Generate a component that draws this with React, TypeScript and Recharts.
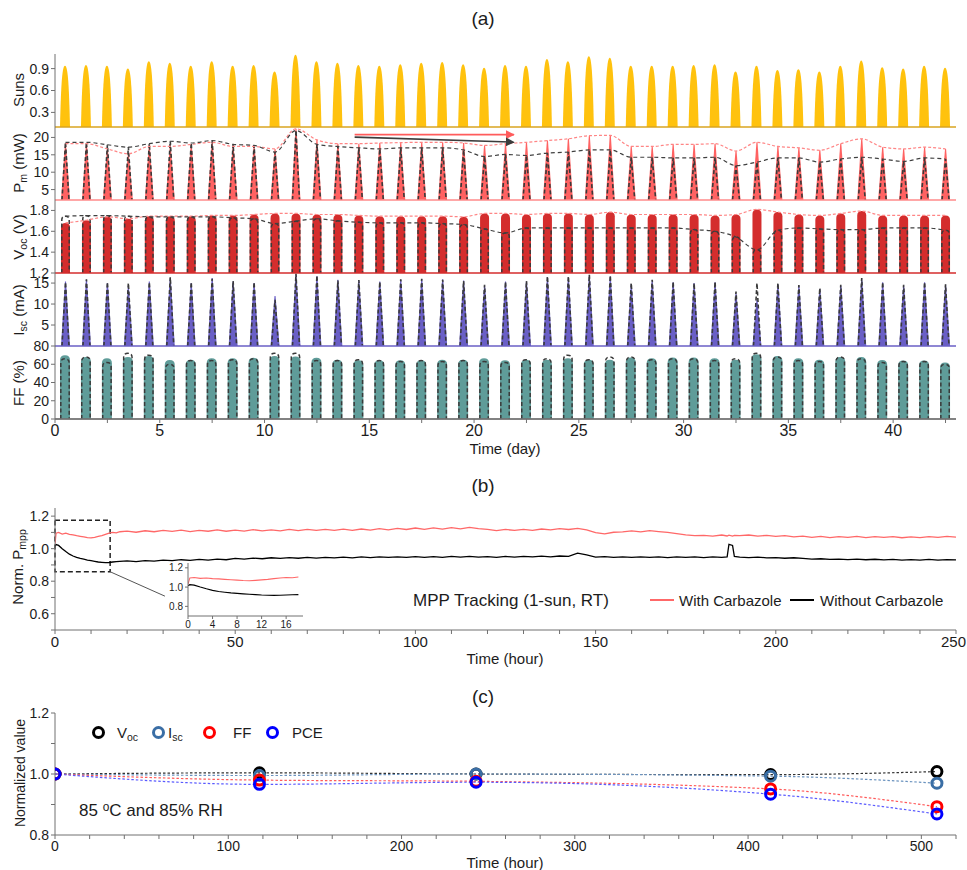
import React from "react";
import {
  ComposedChart,
  LineChart,
  Line,
  Bar,
  XAxis,
  YAxis,
  ReferenceLine,
  ReferenceArea,
} from "recharts";

const FONT = '"Liberation Sans", Arial, Helvetica, sans-serif';
const AXIS = "#707070";
const INK = "#1c1c1c";

const SUN = "#ffc20e";
const PM = "#ff6262";
const VOC = "#d42d2d";
const ISC = "#6a5fc6";
const FFC = "#5f9c99";
const DASH = "#3a3a3a";

// ---------- (a) outdoor test, one peak per day ----------
const dayMid = [
  0.5, 1.5, 2.5, 3.5, 4.5, 5.5, 6.5, 7.5, 8.5, 9.5, 10.5, 11.5, 12.5, 13.5, 14.5,
  15.5, 16.5, 17.5, 18.5, 19.5, 20.5, 21.5, 22.5, 23.5, 24.5, 25.5, 26.5, 27.5,
  28.5, 29.5, 30.5, 31.5, 32.5, 33.5, 34.5, 35.5, 36.5, 37.5, 38.5, 39.5, 40.5,
  41.5, 42.5,
];
const dayTicks = [0, 2.5, 5, 7.5, 10, 12.5, 15, 17.5, 20, 22.5, 25, 27.5, 30, 32.5, 35, 37.5, 40, 42.5];

const sunsPeak = [
  0.94, 0.95, 0.94, 0.9, 1.0, 0.98, 0.94, 1.0, 0.94, 0.95, 0.86, 1.09, 1.0,
  0.98, 0.95, 0.94, 0.96, 0.98, 0.99, 0.96, 0.91, 0.95, 0.94, 1.03, 1.0, 1.07, 1.05, 0.94,
  0.94, 0.94, 0.95, 0.96, 0.86, 0.94, 0.88, 0.89, 0.86, 0.94, 1.01, 0.92, 0.9, 0.94, 0.91,
];
const pmWith = [
  18.2, 18.2, 16.7, 15.3, 17.4, 17.4, 18.0, 18.6, 17.4, 17.4, 16.7, 22.5, 19.3,
  18.2, 18.2, 18.4, 18.5, 18.6, 18.6, 18.4, 17.7, 18.2, 18.6, 19.1, 19.6, 20.5, 20.6, 17.4,
  17.4, 18.0, 18.0, 18.2, 16.1, 18.6, 17.4, 17.0, 16.3, 18.2, 19.6, 17.2, 16.7, 17.2, 16.7,
];
const pmWithout = [
  18.6, 18.6, 17.9, 17.2, 18.2, 18.9, 18.4, 19.1, 18.0, 17.7, 15.8, 22.0, 18.0,
  17.4, 17.0, 16.7, 17.0, 17.0, 17.0, 16.4, 14.5, 15.1, 14.8, 15.5, 15.8, 16.4, 16.4, 14.3,
  14.3, 14.1, 14.1, 14.3, 11.9, 12.9, 14.1, 14.1, 12.9, 13.8, 14.3, 13.8, 13.1, 14.1, 13.8,
];
const vocWith = [
  1.68, 1.706, 1.739, 1.72, 1.745, 1.745, 1.745, 1.752, 1.752, 1.761, 1.771, 1.771, 1.761,
  1.761, 1.752, 1.745, 1.745, 1.745, 1.745, 1.739, 1.771, 1.771, 1.761, 1.771, 1.771, 1.761, 1.784, 1.761,
  1.761, 1.761, 1.761, 1.752, 1.761, 1.81, 1.784, 1.761, 1.752, 1.771, 1.794, 1.752, 1.752, 1.752, 1.752,
];
const vocWithout = [
  1.745, 1.75, 1.75, 1.745, 1.739, 1.739, 1.739, 1.739, 1.729, 1.72, 1.674, 1.697, 1.72,
  1.7, 1.687, 1.681, 1.681, 1.681, 1.674, 1.665, 1.623, 1.584, 1.632, 1.632, 1.632, 1.632, 1.632, 1.632,
  1.632, 1.632, 1.616, 1.6, 1.545, 1.423, 1.61, 1.632, 1.623, 1.616, 1.616, 1.632, 1.632, 1.632, 1.61,
];
const iscWith = [
  15.4, 15.8, 15.0, 14.2, 15.4, 16.2, 15.0, 16.2, 15.4, 15.0, 11.9, 17.0, 16.6,
  15.8, 15.6, 15.4, 15.8, 15.9, 15.9, 15.6, 14.4, 15.4, 15.4, 16.4, 16.4, 16.8, 16.6, 14.8,
  15.6, 15.2, 15.0, 15.2, 12.5, 11.0, 14.8, 14.4, 13.6, 14.4, 15.9, 15.2, 14.4, 15.2, 14.6,
];
const iscWithout = [
  15.2, 15.9, 15.2, 15.0, 15.2, 16.4, 15.2, 16.0, 15.5, 15.2, 11.0, 17.2, 16.8,
  15.6, 15.7, 15.3, 15.9, 16.0, 15.8, 15.5, 14.6, 15.3, 15.5, 16.6, 16.6, 17.0, 16.8, 15.0,
  15.8, 15.3, 15.0, 15.3, 13.0, 15.0, 15.0, 14.5, 13.8, 14.6, 16.2, 15.2, 14.6, 15.2, 14.7,
];
const ffWith = [
  70, 68, 66.5, 68, 69, 64.7, 65, 66.5, 66.5, 67, 69, 68.5, 67,
  65, 64.5, 64.5, 64.5, 64.5, 65, 65, 66.5, 64.5, 65, 65, 66.5, 65, 65, 67.5,
  66.5, 67.5, 67.5, 66.5, 65, 71, 69, 66.5, 65, 68, 68, 64.7, 64, 64, 62,
];
const ffWithout = [
  66, 68, 62, 72, 70, 60, 64, 64, 65, 66, 72, 72, 64,
  64, 65, 64, 63, 64, 63, 64, 63, 62, 65, 66, 70, 65, 68, 68,
  65, 66, 66, 64, 66, 72, 68, 64, 63, 68, 66, 62, 63, 63, 60,
];

// ---------- (b) MPP tracking ----------
const mppTime = [
  0, 0.3, 1, 2, 3, 4, 5, 6, 7, 8, 9, 10, 11, 12, 13, 14, 15, 16, 17, 18,
  20, 22.5, 25, 27.5, 30, 32.5, 35, 37.5, 40, 42.5,
  45, 47.5, 50, 52.5, 55, 57.5, 60, 62.5, 65, 67.5,
  70, 72.5, 75, 77.5, 80, 82.5, 85, 87.5, 90, 92.5,
  95, 97.5, 100, 102.5, 105, 107.5, 110, 112.5, 115, 117.5,
  120, 122.5, 125, 127.5, 130, 132.5, 135, 137.5, 140, 142.5,
  145, 147.5, 150, 152.5, 155, 157.5, 160, 162.5, 165, 167.5,
  170, 172.5, 175, 177.5, 180, 182.5, 185, 186.5, 187, 188, 188.5,
  190, 192.5, 195, 197.5, 200, 202.5, 205, 207.5, 210, 212.5,
  215, 217.5, 220, 222.5, 225, 227.5, 230, 232.5, 235, 237.5,
  240, 242.5, 245, 247.5, 250,
];
const mppWith = [
  1.03, 1.095, 1.1, 1.09, 1.095, 1.088, 1.085, 1.08, 1.076, 1.072, 1.068, 1.066, 1.07, 1.075, 1.08, 1.088, 1.095, 1.1, 1.097, 1.104,
  1.108, 1.101, 1.11, 1.104, 1.113, 1.106, 1.114, 1.105, 1.113, 1.107,
  1.115, 1.107, 1.114, 1.108, 1.117, 1.109, 1.116, 1.11, 1.118, 1.111,
  1.119, 1.112, 1.118, 1.112, 1.12, 1.113, 1.121, 1.114, 1.123, 1.116,
  1.125, 1.118, 1.127, 1.119, 1.128, 1.12, 1.129, 1.122, 1.131, 1.123,
  1.118, 1.111, 1.118, 1.112, 1.119, 1.113, 1.121, 1.115, 1.123, 1.118,
  1.125, 1.116, 1.098, 1.091, 1.101, 1.103, 1.109, 1.103, 1.111, 1.105,
  1.1, 1.092, 1.085, 1.08, 1.082, 1.077, 1.084, 1.078, 1.083, 1.077, 1.082,
  1.08, 1.084, 1.077, 1.082, 1.075, 1.08, 1.072, 1.077, 1.069, 1.075,
  1.068, 1.074, 1.069, 1.075, 1.068, 1.074, 1.069, 1.074, 1.067, 1.073,
  1.068, 1.074, 1.069, 1.076, 1.071,
];
const mppWithout = [
  1.015, 1.025, 1.02, 1.0, 0.982, 0.966, 0.955, 0.947, 0.94, 0.935, 0.93, 0.926, 0.922, 0.918, 0.916, 0.914, 0.915, 0.918, 0.92, 0.922,
  0.925, 0.92, 0.927, 0.923, 0.93, 0.926, 0.932, 0.928, 0.934, 0.93,
  0.936, 0.932, 0.94, 0.936, 0.942, 0.938, 0.944, 0.94, 0.945, 0.941,
  0.946, 0.942, 0.947, 0.943, 0.948, 0.944, 0.949, 0.945, 0.95, 0.946,
  0.95, 0.946, 0.951, 0.947, 0.951, 0.947, 0.952, 0.948, 0.952, 0.948,
  0.951, 0.947, 0.952, 0.948, 0.953, 0.949, 0.954, 0.95, 0.955, 0.953,
  0.972, 0.962, 0.948, 0.951, 0.947, 0.95, 0.946, 0.95, 0.946, 0.949,
  0.945, 0.95, 0.946, 0.949, 0.945, 0.949, 0.946, 0.95, 1.027, 1.02, 0.952,
  0.948, 0.945, 0.948, 0.944, 0.945, 0.941, 0.944, 0.94, 0.936, 0.938,
  0.934, 0.936, 0.933, 0.936, 0.932, 0.935, 0.931, 0.934, 0.93, 0.933,
  0.93, 0.934, 0.93, 0.933, 0.931,
];
const hourTicks = [
  0, 10, 20, 30, 40, 50, 60, 70, 80, 90, 100, 110, 120, 130, 140, 150, 160, 170, 180, 190,
  200, 210, 220, 230, 240, 250,
];
const normTicks = [0.5, 0.6, 0.7, 0.8, 0.9, 1.0, 1.1, 1.2];
const insetTicks = [0, 4, 8, 12, 16];

// ---------- (c) damp heat ----------
const dhTime = [0, 118, 243, 413, 509];
const dhVoc = [1.0, 1.004, 1.0, 0.998, 1.008];
const dhIsc = [1.0, 0.995, 1.0, 0.993, 0.97];
const dhFF = [1.0, 0.98, 0.976, 0.951, 0.893];
const dhPCE = [1.0, 0.966, 0.973, 0.934, 0.869];
const dhTicks = [
  0, 20, 40, 60, 80, 100, 120, 140, 160, 180, 200, 220, 240, 260, 280, 300, 320, 340,
  360, 380, 400, 420, 440, 460, 480, 500, 520,
];
const dhYTicks = [0.8, 0.9, 1.0, 1.1, 1.2];

const dayRows = dayMid.map((day, i) => ({
  day,
  suns: sunsPeak[i],
  pmW: pmWith[i],
  pmO: pmWithout[i],
  vocW: vocWith[i],
  vocO: vocWithout[i],
  iscW: iscWith[i],
  iscO: iscWithout[i],
  ffW: ffWith[i],
  ffO: ffWithout[i],
}));
const mppRows = mppTime.map((t, i) => ({ t, withC: mppWith[i], without: mppWithout[i] }));
const insetRows = mppRows.filter((r) => r.t <= 18.75);
const dhRows = dhTime.map((t, i) => ({ t, voc: dhVoc[i], isc: dhIsc[i], ff: dhFF[i], pce: dhPCE[i] }));

const near = (v: number, list: number[]) => list.some((k) => Math.abs(k - v) < 1e-6);
const dayFmt = (v: number) => (v % 5 === 0 ? String(v) : "");
const one = (v: number) => v.toFixed(1);

// ---------- mark shapes ----------
const bell = (color: string) => (p: any) => {
  const { x, y, width: w, height: h } = p;
  if (!(h > 0)) return <g />;
  const b = y + h;
  return (
    <path
      d={`M${x},${b}C${x + w * 0.1},${b - h * 0.7} ${x + w * 0.22},${y} ${x + w / 2},${y}C${x + w * 0.78},${y} ${x + w * 0.9},${b - h * 0.7} ${x + w},${b}Z`}
      fill={color}
    />
  );
};
const spike = (color: string) => (p: any) => {
  const { x, y, width: w, height: h } = p;
  if (!(h > 0)) return <g />;
  const b = y + h;
  return <path d={`M${x},${b}L${x + w * 0.44},${y}L${x + w * 0.56},${y}L${x + w},${b}Z`} fill={color} />;
};
const spikeDash = (p: any) => {
  const { x, y, width: w, height: h } = p;
  if (!(h > 0)) return <g />;
  const b = y + h;
  return (
    <path
      d={`M${x + 1},${b}L${x + w / 2},${y}L${x + w - 1},${b}`}
      fill="none"
      stroke={DASH}
      strokeWidth={1.6}
      strokeDasharray="4 2.5"
    />
  );
};
const domePath = (x: number, y: number, w: number, h: number, closed: boolean) => {
  const r = Math.min(w / 2, h);
  const b = y + h;
  return `M${x},${b}L${x},${y + r}Q${x},${y} ${x + r},${y}L${x + w - r},${y}Q${x + w},${y} ${x + w},${y + r}L${x + w},${b}${closed ? "Z" : ""}`;
};
const dome = (color: string) => (p: any) => {
  const { x, y, width: w, height: h } = p;
  if (!(h > 0)) return <g />;
  return <path d={domePath(x, y, w, h, true)} fill={color} />;
};
const domeDash = (p: any) => {
  const { x, y, width: w, height: h } = p;
  if (!(h > 0)) return <g />;
  return (
    <path
      d={domePath(x + 0.8, y, w - 1.6, h, false)}
      fill="none"
      stroke={DASH}
      strokeWidth={1.5}
      strokeDasharray="4 2.5"
    />
  );
};

const arrow = (color: string, id: string) => (p: any) => (
  <line x1={p.x1} y1={p.y1} x2={p.x2} y2={p.y2} stroke={color} strokeWidth={1.6} markerEnd={`url(#${id})`} />
);

// hour ticks of (b): the last label sits flush with the page edge
const hourTick = (p: any) => {
  const v = p.payload.value;
  if (v % 50 !== 0) return <g />;
  const last = v === 250;
  return (
    <text
      x={last ? p.x + 10 : p.x}
      y={p.y}
      dy="0.71em"
      textAnchor={last ? "end" : "middle"}
      fill={INK}
      fontSize={15}
      fontFamily={FONT}
    >
      {v}
    </text>
  );
};

// ---------- text helpers ----------
const Sub = ({ children }: any) => (
  <span style={{ fontSize: "0.7em", position: "relative", top: "0.3em" }}>{children}</span>
);
const Sup = ({ children }: any) => (
  <span style={{ fontSize: "0.7em", position: "relative", top: "-0.45em" }}>{children}</span>
);

function Txt({ x, y, size = 15, left = false, children }: any) {
  return (
    <div
      style={{
        position: "absolute",
        left: x,
        top: y,
        transform: left ? "translate(0, -50%)" : "translate(-50%, -50%)",
        whiteSpace: "nowrap",
        fontSize: size,
        fontFamily: FONT,
        color: INK,
        lineHeight: 1,
      }}
    >
      {children}
    </div>
  );
}

function VLabel({ x, y, size = 15, children }: any) {
  return (
    <div
      style={{
        position: "absolute",
        left: x,
        top: y,
        transform: "translate(-50%, -50%) rotate(-90deg)",
        whiteSpace: "nowrap",
        fontSize: size,
        fontFamily: FONT,
        color: INK,
        lineHeight: 1,
      }}
    >
      {children}
    </div>
  );
}

const tickText = (size: number) => ({ fill: INK, fontSize: size, fontFamily: FONT });

// one stacked strip of panel (a)
function Strip({ top, domain, ticks, minor, fmt, wKey, oKey, wShape, oShape, barW, base, color, envW, envO, last, children }: any) {
  const mt = 6;
  const mb = last ? 0 : 6;
  const xh = last ? 26 : 0;
  return (
    <div style={{ position: "absolute", left: 8, top: top - mt }}>
      <ComposedChart width={951} height={mt + 73 + mb + xh} data={dayRows} margin={{ top: mt, right: 3, bottom: mb, left: 0 }}>
        <XAxis
          xAxisId="b"
          dataKey="day"
          type="number"
          domain={[0, 43]}
          allowDataOverflow
          ticks={dayTicks}
          interval={0}
          hide={!last}
          height={xh}
          stroke={AXIS}
          tickSize={4}
          tick={tickText(16)}
          tickFormatter={dayFmt}
        />
        <XAxis
          xAxisId="t"
          orientation="top"
          dataKey="day"
          type="number"
          domain={[0, 43]}
          allowDataOverflow
          ticks={dayTicks}
          interval={0}
          height={0}
          stroke={AXIS}
          tickSize={4}
          tick={false}
        />
        <YAxis
          yAxisId="l"
          type="number"
          domain={domain}
          allowDataOverflow
          ticks={ticks}
          interval={0}
          width={47}
          stroke={AXIS}
          tickSize={4}
          tick={tickText(14)}
          tickFormatter={fmt}
        />
        <YAxis
          yAxisId="r"
          orientation="right"
          type="number"
          domain={domain}
          allowDataOverflow
          ticks={minor}
          interval={0}
          width={0}
          mirror
          stroke={AXIS}
          tickSize={4}
          tick={false}
        />
        <Bar xAxisId="b" yAxisId="l" dataKey={wKey} barSize={barW} shape={wShape} isAnimationActive={false} />
        {oKey ? (
          <Bar xAxisId="t" yAxisId="l" dataKey={oKey} barSize={barW} shape={oShape} isAnimationActive={false} />
        ) : null}
        <ReferenceLine xAxisId="b" yAxisId="l" y={base} stroke={color} strokeWidth={1.5} />
        {envW ? (
          <Line
            xAxisId="b"
            yAxisId="l"
            type="monotone"
            dataKey={envW}
            stroke="#ff8585"
            strokeWidth={1.2}
            strokeDasharray="3 2"
            dot={false}
            isAnimationActive={false}
          />
        ) : null}
        {envO ? (
          <Line
            xAxisId="b"
            yAxisId="l"
            type="monotone"
            dataKey={envO}
            stroke="#404040"
            strokeWidth={1.2}
            strokeDasharray="4 3"
            dot={false}
            isAnimationActive={false}
          />
        ) : null}
        {children}
      </ComposedChart>
    </div>
  );
}

function ringDot(color: string) {
  return (p: any) => (
    <circle key={`d${p.index}`} cx={p.cx} cy={p.cy} r={5} fill="none" stroke={color} strokeWidth={3} />
  );
}

function Ring({ x, y, color }: any) {
  return (
    <div
      style={{
        position: "absolute",
        left: x - 6.5,
        top: y - 6.5,
        width: 7,
        height: 7,
        borderRadius: "50%",
        border: `3px solid ${color}`,
      }}
    />
  );
}

export default function App() {
  return (
    <div
      style={{
        position: "absolute",
        left: 0,
        top: 0,
        width: 967,
        height: 870,
        overflow: "hidden",
        background: "#fff",
        fontFamily: FONT,
      }}
    >
      <style>{`.recharts-surface { overflow: visible; } .recharts-wrapper { overflow: visible; }`}</style>

      {/* ---------------- (a) ---------------- */}
      <Txt x={483} y={18} size={19}>(a)</Txt>

      <Strip
        top={54}
        domain={[0.1, 1.1]}
        ticks={[0.3, 0.6, 0.9]}
        minor={[0.15, 0.3, 0.45, 0.6, 0.75, 0.9, 1.05]}
        fmt={one}
        wKey="suns"
        wShape={bell(SUN)}
        barW={10}
        base={0.1}
        color="#d9a520"
      />
      <Strip
        top={127}
        domain={[2, 23]}
        ticks={[5, 10, 15, 20]}
        minor={[5, 7.5, 10, 12.5, 15, 17.5, 20, 22.5]}
        wKey="pmW"
        oKey="pmO"
        wShape={spike(PM)}
        oShape={spikeDash}
        barW={9}
        base={2}
        color="#ff8a8a"
        envW="pmW"
        envO="pmO"
      >
        <defs>
          <marker id="tipRed" viewBox="0 0 10 10" refX="9" refY="5" markerWidth="9" markerHeight="9" markerUnits="userSpaceOnUse" orient="auto">
            <path d="M0,0L10,5L0,10Z" fill="#ff5c5c" />
          </marker>
          <marker id="tipDark" viewBox="0 0 10 10" refX="9" refY="5" markerWidth="9" markerHeight="9" markerUnits="userSpaceOnUse" orient="auto">
            <path d="M0,0L10,5L0,10Z" fill="#3c3c3c" />
          </marker>
        </defs>
        <ReferenceLine
          xAxisId="b"
          yAxisId="l"
          segment={[{ x: 14.3, y: 20.8 }, { x: 21.9, y: 20.8 }]}
          shape={arrow("#ff5c5c", "tipRed")}
        />
        <ReferenceLine
          xAxisId="b"
          yAxisId="l"
          segment={[{ x: 14.3, y: 20.1 }, { x: 21.9, y: 18.65 }]}
          shape={arrow("#3c3c3c", "tipDark")}
        />
      </Strip>
      <Strip
        top={200}
        domain={[1.2, 1.9]}
        ticks={[1.2, 1.4, 1.6, 1.8]}
        minor={[1.3, 1.4, 1.5, 1.6, 1.7, 1.8]}
        fmt={one}
        wKey="vocW"
        oKey="vocO"
        wShape={dome(VOC)}
        oShape={domeDash}
        barW={9}
        base={1.2}
        color={VOC}
        envW="vocW"
        envO="vocO"
      />
      <Strip
        top={273}
        domain={[0, 17.4]}
        ticks={[5, 10, 15]}
        minor={[2.5, 5, 7.5, 10, 12.5, 15]}
        wKey="iscW"
        oKey="iscO"
        wShape={spike(ISC)}
        oShape={spikeDash}
        barW={9}
        base={0}
        color={ISC}
      />
      <Strip
        top={346}
        domain={[0, 80]}
        ticks={[0, 20, 40, 60, 80]}
        minor={[10, 20, 30, 40, 50, 60, 70]}
        wKey="ffW"
        oKey="ffO"
        wShape={dome(FFC)}
        oShape={domeDash}
        barW={10}
        base={0}
        color={AXIS}
        last
      />

      <VLabel x={18} y={90}>Suns</VLabel>
      <VLabel x={18} y={163}>
        P<Sub>m</Sub> (mW)
      </VLabel>
      <VLabel x={18} y={237}>
        V<Sub>oc</Sub> (V)
      </VLabel>
      <VLabel x={18} y={310}>
        I<Sub>sc</Sub> (mA)
      </VLabel>
      <VLabel x={18} y={383}>FF (%)</VLabel>
      <Txt x={505} y={448} size={15}>Time (day)</Txt>

      {/* ---------------- (b) ---------------- */}
      <Txt x={483} y={485} size={19}>(b)</Txt>
      <div style={{ position: "absolute", left: 8, top: 502 }}>
        <ComposedChart width={951} height={156} data={mppRows} margin={{ top: 6, right: 3, bottom: 0, left: 0 }}>
          <XAxis
            xAxisId="b"
            dataKey="t"
            type="number"
            domain={[0, 250]}
            allowDataOverflow
            ticks={hourTicks}
            interval={0}
            height={28}
            stroke={AXIS}
            tickSize={4}
            tick={hourTick}
          />
          <XAxis
            xAxisId="t"
            orientation="top"
            dataKey="t"
            type="number"
            domain={[0, 250]}
            allowDataOverflow
            ticks={hourTicks}
            interval={0}
            height={0}
            stroke={AXIS}
            tickSize={4}
            tick={false}
          />
          <YAxis
            yAxisId="l"
            type="number"
            domain={[0.5, 1.25]}
            allowDataOverflow
            ticks={normTicks}
            interval={0}
            width={47}
            stroke={AXIS}
            tickSize={4}
            tick={tickText(14)}
            tickFormatter={(v: number) => (near(v, [0.6, 0.8, 1.0, 1.2]) ? one(v) : "")}
          />
          <YAxis
            yAxisId="r"
            orientation="right"
            type="number"
            domain={[0.5, 1.25]}
            allowDataOverflow
            ticks={normTicks}
            interval={0}
            width={0}
            mirror
            stroke={AXIS}
            tickSize={4}
            tick={false}
          />
          <Line xAxisId="b" yAxisId="l" type="linear" dataKey="withC" stroke="#ff6868" strokeWidth={1.3} dot={false} isAnimationActive={false} />
          <Line xAxisId="b" yAxisId="l" type="linear" dataKey="without" stroke="#000" strokeWidth={1.3} dot={false} isAnimationActive={false} />
          <ReferenceArea
            xAxisId="b"
            yAxisId="l"
            x1={0}
            x2={15.3}
            y1={0.858}
            y2={1.175}
            fill="none"
            fillOpacity={0}
            stroke="#222"
            strokeWidth={1.5}
            strokeDasharray="5 3"
          />
          <ReferenceLine
            xAxisId="b"
            yAxisId="l"
            segment={[{ x: 15.3, y: 0.858 }, { x: 30.5, y: 0.708 }]}
            stroke="#555"
            strokeWidth={1}
          />
        </ComposedChart>
      </div>

      {/* inset: first hours */}
      <div style={{ position: "absolute", left: 164, top: 562 }}>
        <LineChart width={140} height={68} data={insetRows} margin={{ top: 1, right: 1, bottom: 0, left: 0 }}>
          <XAxis
            dataKey="t"
            type="number"
            domain={[0, 18.75]}
            allowDataOverflow
            ticks={insetTicks}
            interval={0}
            height={14}
            stroke={AXIS}
            tickSize={3}
            tick={tickText(10)}
          />
          <XAxis xAxisId="top" orientation="top" dataKey="t" type="number" domain={[0, 18.75]} height={0} stroke={AXIS} tick={false} tickLine={false} />
          <YAxis
            type="number"
            domain={[0.7, 1.25]}
            allowDataOverflow
            ticks={[0.8, 1.0, 1.2]}
            interval={0}
            width={24}
            stroke={AXIS}
            tickSize={3}
            tick={tickText(10)}
            tickFormatter={one}
          />
          <YAxis yAxisId="right" orientation="right" type="number" domain={[0.7, 1.25]} width={0} stroke={AXIS} tick={false} tickLine={false} />
          <Line type="linear" dataKey="withC" stroke="#ff6868" strokeWidth={1.1} dot={false} isAnimationActive={false} />
          <Line type="linear" dataKey="without" stroke="#000" strokeWidth={1.1} dot={false} isAnimationActive={false} />
        </LineChart>
      </div>

      <VLabel x={17} y={567} size={15}>
        Norm. P<Sub>mpp</Sub>
      </VLabel>
      <Txt x={413} y={600} size={17} left>
        MPP Tracking (1-sun, RT)
      </Txt>
      <div style={{ position: "absolute", left: 650, top: 599, width: 24, height: 1.5, background: "#ff6868" }} />
      <Txt x={679} y={600} size={15} left>
        With Carbazole
      </Txt>
      <div style={{ position: "absolute", left: 790, top: 599, width: 24, height: 1.5, background: "#000" }} />
      <Txt x={820} y={600} size={15} left>
        Without Carbazole
      </Txt>
      <Txt x={505} y={658} size={15}>Time (hour)</Txt>

      {/* ---------------- (c) ---------------- */}
      <Txt x={483} y={696} size={19}>(c)</Txt>
      <div style={{ position: "absolute", left: 8, top: 707 }}>
        <ComposedChart width={951} height={156} data={dhRows} margin={{ top: 6, right: 3, bottom: 0, left: 0 }}>
          <XAxis
            xAxisId="b"
            dataKey="t"
            type="number"
            domain={[0, 520]}
            allowDataOverflow
            ticks={dhTicks}
            interval={0}
            height={28}
            stroke={AXIS}
            tickSize={4}
            tick={tickText(14)}
            tickFormatter={(v: number) => (v % 100 === 0 ? String(v) : "")}
          />
          <XAxis
            xAxisId="t"
            orientation="top"
            dataKey="t"
            type="number"
            domain={[0, 520]}
            allowDataOverflow
            ticks={dhTicks}
            interval={0}
            height={0}
            stroke={AXIS}
            tickSize={4}
            tick={false}
          />
          <YAxis
            yAxisId="l"
            type="number"
            domain={[0.8, 1.2]}
            allowDataOverflow
            ticks={dhYTicks}
            interval={0}
            width={47}
            stroke={AXIS}
            tickSize={4}
            tick={tickText(14)}
            tickFormatter={(v: number) => (near(v, [0.8, 1.0, 1.2]) ? one(v) : "")}
          />
          <YAxis
            yAxisId="r"
            orientation="right"
            type="number"
            domain={[0.8, 1.2]}
            allowDataOverflow
            ticks={dhYTicks}
            interval={0}
            width={0}
            mirror
            stroke={AXIS}
            tickSize={4}
            tick={false}
          />
          <Line xAxisId="b" yAxisId="l" type="monotone" dataKey="voc" stroke="#333" strokeWidth={1.2} strokeDasharray="2.5 2" dot={ringDot("#000")} isAnimationActive={false} />
          <Line xAxisId="b" yAxisId="l" type="monotone" dataKey="isc" stroke="#6b93bf" strokeWidth={1.2} strokeDasharray="2.5 2" dot={ringDot("#3a6ea5")} isAnimationActive={false} />
          <Line xAxisId="b" yAxisId="l" type="monotone" dataKey="ff" stroke="#ff5a5a" strokeWidth={1.2} strokeDasharray="2.5 2" dot={ringDot("#ff0000")} isAnimationActive={false} />
          <Line xAxisId="b" yAxisId="l" type="monotone" dataKey="pce" stroke="#5a5aff" strokeWidth={1.2} strokeDasharray="2.5 2" dot={ringDot("#0000ff")} isAnimationActive={false} />
        </ComposedChart>
      </div>

      <VLabel x={20} y={773} size={14}>Normalized value</VLabel>
      <Ring x={98} y={732} color="#000" />
      <Txt x={117} y={732} size={15} left>
        V<Sub>oc</Sub>
      </Txt>
      <Ring x={158} y={732} color="#3a6ea5" />
      <Txt x={168} y={732} size={15} left>
        I<Sub>sc</Sub>
      </Txt>
      <Ring x={209} y={732} color="#ff0000" />
      <Txt x={233} y={732} size={15} left>
        FF
      </Txt>
      <Ring x={272} y={732} color="#0000ff" />
      <Txt x={292} y={732} size={15} left>
        PCE
      </Txt>
      <Txt x={79} y={810} size={17} left>
        85 <Sup>o</Sup>C and 85% RH
      </Txt>
      <Txt x={505} y={862} size={15}>Time (hour)</Txt>
    </div>
  );
}
